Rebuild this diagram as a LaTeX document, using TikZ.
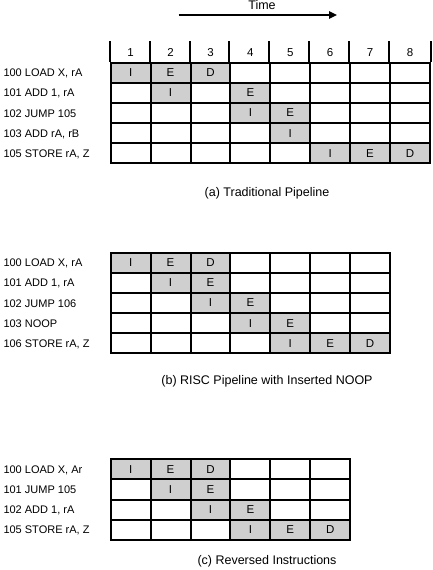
\documentclass[tikz,border=0pt]{standalone}
\usepackage{fontspec}
\setmainfont{Liberation Sans}
\usetikzlibrary{arrows.meta}
\definecolor{cellgray}{HTML}{CFCFCF}
\begin{document}
\begin{tikzpicture}[x=1pt,y=-1pt,
  cell/.style={draw=black, line width=2pt, minimum width=39.9pt, minimum height=20.13pt, inner sep=0pt, font=\fontsize{11.5}{13}\selectfont},
  full/.style={cell, fill=cellgray},
  blank/.style={cell, fill=white},
  lab/.style={anchor=base west, inner sep=0pt, font=\fontsize{11}{13}\selectfont},
  colnum/.style={inner sep=0pt, font=\fontsize{11.5}{13}\selectfont},
  captext/.style={inner sep=0pt, font=\fontsize{12.5}{14}\selectfont},
  tick/.style={line width=2pt}]
\useasboundingbox (0,0) rectangle (433,570);
\def\emptycell{o}
% ---------- (a) ----------
\foreach \lab/\cells [count=\r] in {
  {100 LOAD X, rA}/{I,E,D,o,o,o,o,o},
  {101 ADD 1, rA}/{o,I,o,E,o,o,o,o},
  {102 JUMP 105}/{o,o,o,I,E,o,o,o},
  {103 ADD rA, rB}/{o,o,o,o,I,o,o,o},
  {105 STORE rA, Z}/{o,o,o,o,o,I,E,D}}{
  \node[lab] (la\r) at (3.3,{62.7+20.13*(\r-0.5)+4}) {\lab};
  \foreach \v [count=\c] in \cells {
    \ifx\v\emptycell
      \node[blank] (a-\r-\c) at ({90.75+39.9*\c},{62.7+20.13*(\r-0.5)}) {};
    \else
      \node[full] (a-\r-\c) at ({90.75+39.9*\c},{62.7+20.13*(\r-0.5)}) {\v};
    \fi
  }
}
\foreach \c in {1,...,8}{
  \node[colnum] (h\c) at ({90.75+39.9*\c},52.6) {\c};
  \draw[tick] (a-1-\c.north west) -- ++(0,-20.3);
}
\draw[tick] (a-1-8.north east) -- ++(0,-20.3);
\node[captext] (capa) at (267,193) {(a) Traditional Pipeline};
% time arrow
\coordinate (t0) at (178.5,15);
\coordinate (t1) at (337,15);
\draw[line width=1.3pt, -{Triangle[length=8pt,width=7.5pt]}] (t0) -- (t1);
\node[captext] (time) at (262,4.6) {Time};
% ---------- (b) ----------
\foreach \lab/\cells [count=\r] in {
  {100 LOAD X, rA}/{I,E,D,o,o,o,o},
  {101 ADD 1, rA}/{o,I,E,o,o,o,o},
  {102 JUMP 106}/{o,o,I,E,o,o,o},
  {103 NOOP}/{o,o,o,I,E,o,o},
  {106 STORE rA, Z}/{o,o,o,o,I,E,D}}{
  \node[lab] (lb\r) at (3.3,{252.7+20.13*(\r-0.5)+4}) {\lab};
  \foreach \v [count=\c] in \cells {
    \ifx\v\emptycell
      \node[blank] (b-\r-\c) at ({90.75+39.9*\c},{252.7+20.13*(\r-0.5)}) {};
    \else
      \node[full] (b-\r-\c) at ({90.75+39.9*\c},{252.7+20.13*(\r-0.5)}) {\v};
    \fi
  }
}
\node[captext] (capb) at (267,381.7) {(b) RISC Pipeline with Inserted NOOP};
% ---------- (c) ----------
\foreach \lab/\cells [count=\r] in {
  {100 LOAD X, Ar}/{I,E,D,o,o,o},
  {101 JUMP 105}/{o,I,E,o,o,o},
  {102 ADD 1, rA}/{o,o,I,E,o,o},
  {105 STORE rA, Z}/{o,o,o,I,E,D}}{
  \node[lab] (lc\r) at (3.3,{459.3+20.13*(\r-0.5)+4}) {\lab};
  \foreach \v [count=\c] in \cells {
    \ifx\v\emptycell
      \node[blank] (c-\r-\c) at ({90.75+39.9*\c},{459.3+20.13*(\r-0.5)}) {};
    \else
      \node[full] (c-\r-\c) at ({90.75+39.9*\c},{459.3+20.13*(\r-0.5)}) {\v};
    \fi
  }
}
\node[captext] (capc) at (267,561.7) {(c) Reversed Instructions};
\end{tikzpicture}
\end{document}
